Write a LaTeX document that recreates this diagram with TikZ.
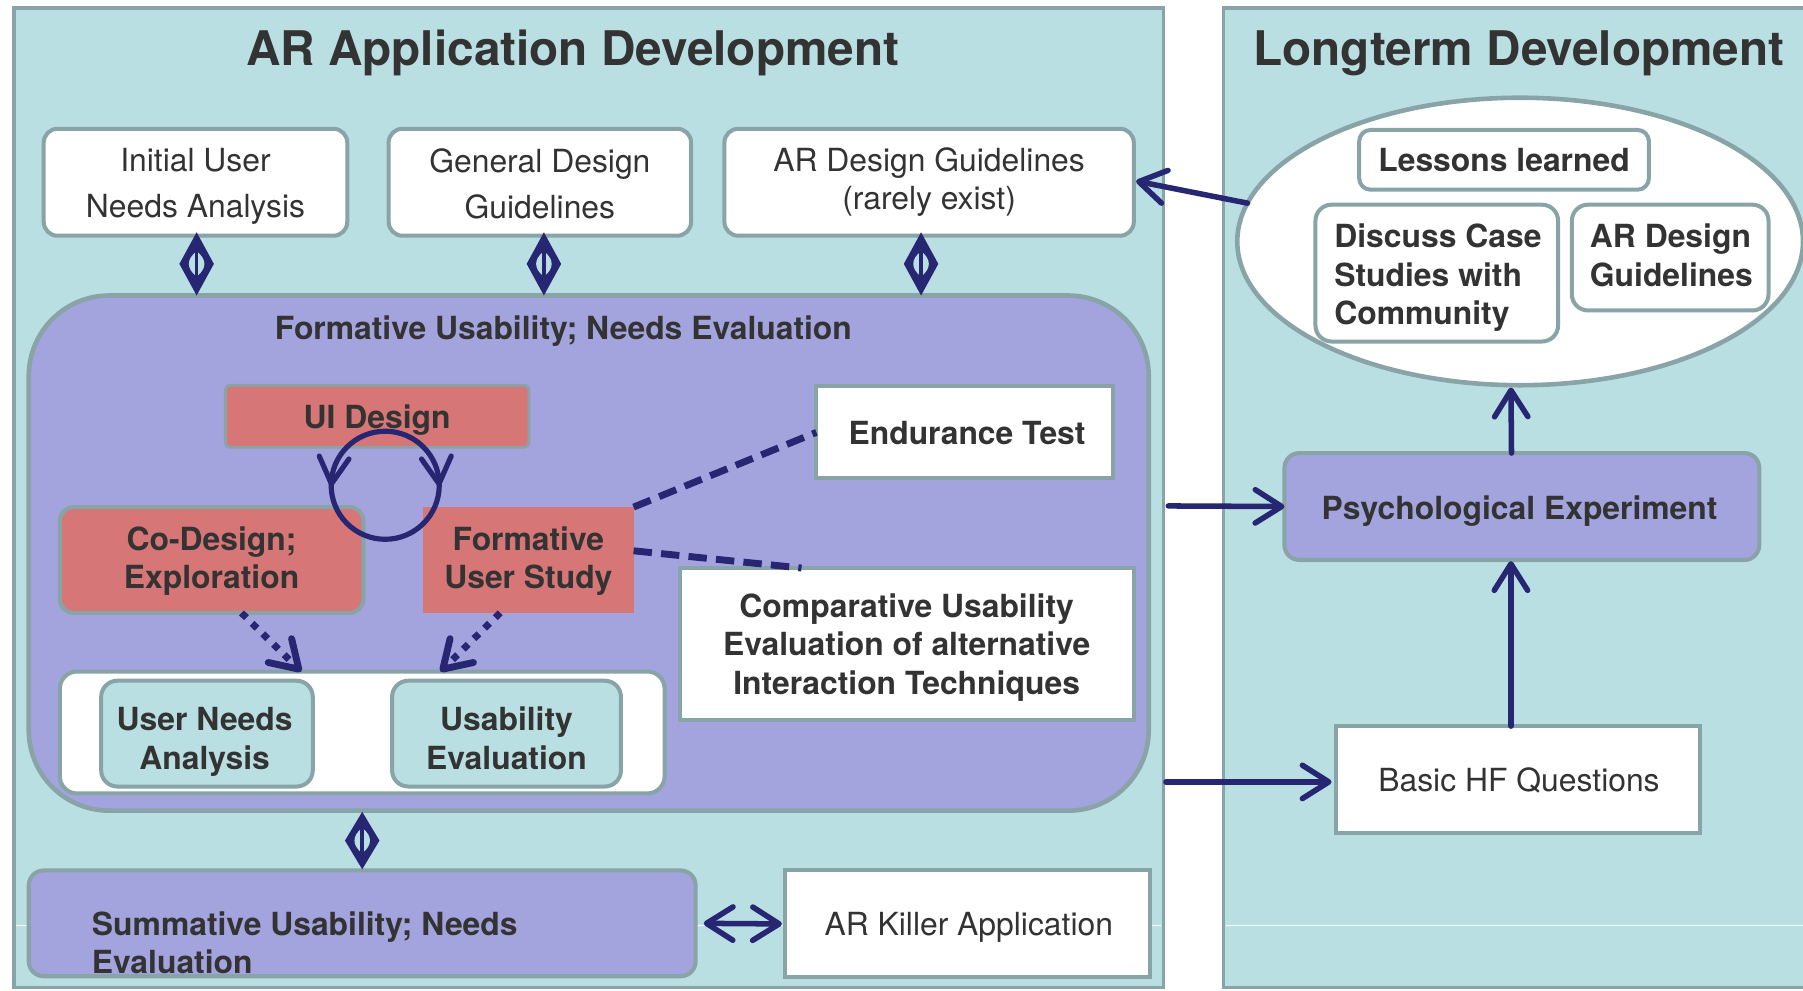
\documentclass[tikz,border=0pt]{standalone}
\usepackage{fontspec}
\setmainfont{TeX Gyre Heros}
\usetikzlibrary{arrows.meta,shapes.geometric,calc}
\definecolor{panel}{HTML}{BADFE2}
\definecolor{bord}{HTML}{88A4A6}
\definecolor{lav}{HTML}{A3A3DD}
\definecolor{redbox}{HTML}{D77676}
\definecolor{navy}{HTML}{262673}
\definecolor{txt}{HTML}{333333}
\newcommand\bodyfont{\fontsize{27.7}{33.5}\selectfont}
\newcommand\titlefont{\fontsize{41.5}{48}\selectfont\bfseries}
\newcommand\dmdlink[2]{%
  \path #1 coordinate (dmA); \path #2 coordinate (dmB);
  \coordinate (dmM) at ($(dmA)!.5!(dmB)$);
  \fill[navy] (dmA) -- ($(dmM)+(15,0)$) -- (dmB) -- ($(dmM)+(-15,0)$) -- cycle;
  \fill[panel] ($(dmM)+(0,-11)$) .. controls ($(dmM)+(9,-4)$) and ($(dmM)+(9,4)$) .. ($(dmM)+(0,11)$)
     .. controls ($(dmM)+(-9,4)$) and ($(dmM)+(-9,-4)$) .. cycle;
  \draw[navy,line width=3pt] ($(dmM)+(0,-12)$) -- ($(dmM)+(0,12)$);
}
\tikzset{
  base/.style={inner sep=0pt, outer sep=0pt, align=center, text=txt, font=\bodyfont},
  panelnode/.style={draw=bord, line width=3pt, fill=panel, inner sep=0pt},
  wbox/.style={base, draw=bord, line width=3.5pt, fill=white},
  rwbox/.style={wbox, rounded corners=12pt},
  lavbox/.style={base, draw=bord, line width=3.5pt, fill=lav, rounded corners=13pt, font=\bodyfont\bfseries},
  rednode/.style={base, fill=redbox, font=\bodyfont\bfseries},
  cyanbox/.style={base, draw=bord, line width=3.5pt, fill=panel, rounded corners=14pt, font=\bodyfont\bfseries},
  bold/.style={font=\bodyfont\bfseries},
  tipa/.tip={Straight Barb[length=23pt,width=29pt,round]},
  arr/.style={draw=navy, line width=4.8pt, line cap=round, -tipa},
  dblarr/.style={draw=navy, line width=4.8pt, tipa-tipa},
  dashlink/.style={draw=navy, line width=6pt, dash pattern=on 16pt off 8pt},
  dotarr/.style={draw=navy, line width=6pt, dash pattern=on 6pt off 7pt, -tipa},
}
\begin{document}
\begin{tikzpicture}[x=1pt,y=-1pt]
\useasboundingbox (0,0) rectangle (1568,861);
\fill[white] (0,0) rectangle (1568,861);
% panels
\node[panelnode, minimum width=1000pt, minimum height=852pt] (lp) at (512,433) {};
\node[panelnode, minimum width=530pt, minimum height=852pt] (rp) at (1329,433) {};
\draw[white, line width=1pt] (14,805) -- (1010,805);
\draw[white, line width=1pt] (1066,805) -- (1568,805);
% titles
\node[base, font=\titlefont] (t1) at (498,46) {AR Application Development};
\node[base, font=\titlefont] (t2) at (1321,46) {Longterm Development};
% top boxes
\node[rwbox, minimum width=264pt, minimum height=93pt] (iuna) at (170,158.5) {};
\node[base, font=\fontsize{27.7}{40}\selectfont] (iunaT) at ($(iuna)+(0,4)$) {Initial User\\Needs Analysis};
\node[rwbox, minimum width=263pt, minimum height=93pt] (gdg) at (469.5,158.5) {};
\node[base, font=\fontsize{27.7}{40}\selectfont] (gdgT) at ($(gdg)+(0,1.5)$) {General Design\\Guidelines};
\node[rwbox, minimum width=356pt, minimum height=93pt, font=\fontsize{27.7}{33}\selectfont] (ardg) at (808,158.5) {AR Design Guidelines\\(rarely exist)};
% formative container
\node[base, draw=bord, line width=4pt, fill=lav, rounded corners=70pt, minimum width=974pt, minimum height=448pt] (form) at (512,481) {};
\node[base, bold] (formt) at (490,288) {Formative Usability; Needs Evaluation};
% red boxes
\node[rednode, draw=bord, line width=2.5pt, rounded corners=4pt, minimum width=264pt, minimum height=54pt] (ui) at (328,362) {};
\node[base, bold] (uiT) at ($(ui)+(0,3)$) {UI Design};
\node[rednode, draw=bord, line width=3.5pt, rounded corners=12pt, minimum width=264pt, minimum height=92pt] (codes) at (184,487) {};
\node[base, bold] (codesT) at ($(codes)+(0,1)$) {Co-Design;\\Exploration};
\node[rednode, minimum width=183pt, minimum height=92pt] (fus) at (459.5,487) {};
\node[base, bold] (fusT) at ($(fus)+(0,1)$) {Formative\\User Study};
% circle
\coordinate (cc) at (335,422);
\draw[navy, line width=4.5pt] (cc) circle (47pt);
\draw[navy, line width=4.5pt, -{Straight Barb[length=23pt,width=26pt,round]}] ($(cc)+(-46,-9)$) -- ($(cc)+(-47,1)$);
\draw[navy, line width=4.5pt, -{Straight Barb[length=23pt,width=26pt,round]}] ($(cc)+(46,-9)$) -- ($(cc)+(47,1)$);
% white boxes in formative
\node[wbox, minimum width=258pt, minimum height=80pt] (endu) at (839,376) {};
\node[base, bold] (enduT) at ($(endu)+(2,1)$) {Endurance Test};
\node[wbox, minimum width=395pt, minimum height=132pt] (comp) at (788.5,560) {};
\node[base, bold] (compT) at ($(comp)+(0,3)$) {Comparative Usability\\Evaluation of alternative\\Interaction Techniques};
\node[wbox, rounded corners=15pt, minimum width=526pt, minimum height=106pt] (inner) at (315,637) {};
\node[cyanbox, minimum width=184pt, minimum height=92pt] (una) at (180,638) {};
\node[base, font=\fontsize{27.7}{34}\selectfont\bfseries] (unaT) at ($(una)+(-2,7)$) {User Needs\\Analysis};
\node[cyanbox, minimum width=199pt, minimum height=92pt] (ue) at (440.5,638) {};
\node[base, font=\fontsize{27.7}{34}\selectfont\bfseries] (ueT) at ($(ue)+(0,4)$) {Usability\\Evaluation};
% dashed and dotted links
\draw[dashlink] (fus.north east) -- (endu.west);
\draw[dashlink] ($(fus.east)+(0,-8)$) -- ($(comp.north)+(-91.5,0)$);
\draw[dotarr] ($(codes.south)+(26,0)$) -- ($(inner.north)+(-53,0)$);
\draw[dotarr] ($(fus.south)+(-24.5,0)$) -- ($(inner.north)+(68,0)$);
% diamonds
\dmdlink{($(iuna.south)+(1,-3)$)}{($(iuna.south |- form.north)+(1,0)$)}
\dmdlink{($(gdg.south)+(3.5,-3)$)}{($(gdg.south |- form.north)+(3.5,0)$)}
\dmdlink{($(ardg.south)+(-7,-3)$)}{($(ardg.south |- form.north)+(-7,0)$)}
% summative
\node[lavbox, minimum width=580pt, minimum height=92pt] (summ) at (315,803) {};
\node[base, bold, align=left, anchor=west] (summt) at (80,820) {Summative Usability; Needs\\Evaluation};
\dmdlink{($(summ.north |- form.south)+(0,1)$)}{($(summ.north)+(0,-1)$)}
\node[wbox, minimum width=317pt, minimum height=93pt] (kill) at (841.5,803.5) {};
\node[base] (killT) at ($(kill)+(1,3)$) {AR Killer Application};
\draw[dblarr] ($(summ.east)+(7,0)$) -- ($(kill.west)+(-3,0)$);
% right side
\node[base, draw=bord, line width=4pt, fill=white, ellipse, minimum width=492pt, minimum height=250pt] (ell) at (1322,210) {};
\node[rwbox, bold, rounded corners=10pt, minimum width=252pt, minimum height=52pt] (lessons) at (1308,139) {Lessons learned};
\node[rwbox, rounded corners=14pt, minimum width=211pt, minimum height=119pt] (disc) at (1249.5,237.5) {};
\node[base, bold, align=left] (discT) at ($(disc)+(1,4)$) {Discuss Case\\Studies with\\Community};
\node[rwbox, rounded corners=14pt, minimum width=171pt, minimum height=92pt] (ardg2) at (1452.5,224) {};
\node[base, bold, align=left] (ardg2T) at ($(ardg2)+(1,-2)$) {AR Design\\Guidelines};
\node[lavbox, minimum width=413pt, minimum height=93pt] (psych) at (1323.5,440.5) {};
\node[base, bold] (psychT) at ($(psych)+(-2,4)$) {Psychological Experiment};
\node[wbox, minimum width=316pt, minimum height=93pt] (hf) at (1320,678) {};
\node[base] (hfT) at ($(hf)+(1,1)$) {Basic HF Questions};
\coordinate (s1) at (1016,440);
\coordinate (s2) at (1014,680);
\draw[arr] (ell.172) -- ($(ardg.east)+(2,-1)$);
\draw[arr] (s1) -- (psych.west);
\draw[arr] (s2) -- ($(hf.west)+(-4,2)$);
\draw[arr] ($(psych.north)+(-9,0)$) -- ($(ell.south)+(-8,2)$);
\draw[arr] ($(hf.north)+(-6,0)$) -- ($(psych.south)+(-9.5,1)$);
\end{tikzpicture}
\end{document}
